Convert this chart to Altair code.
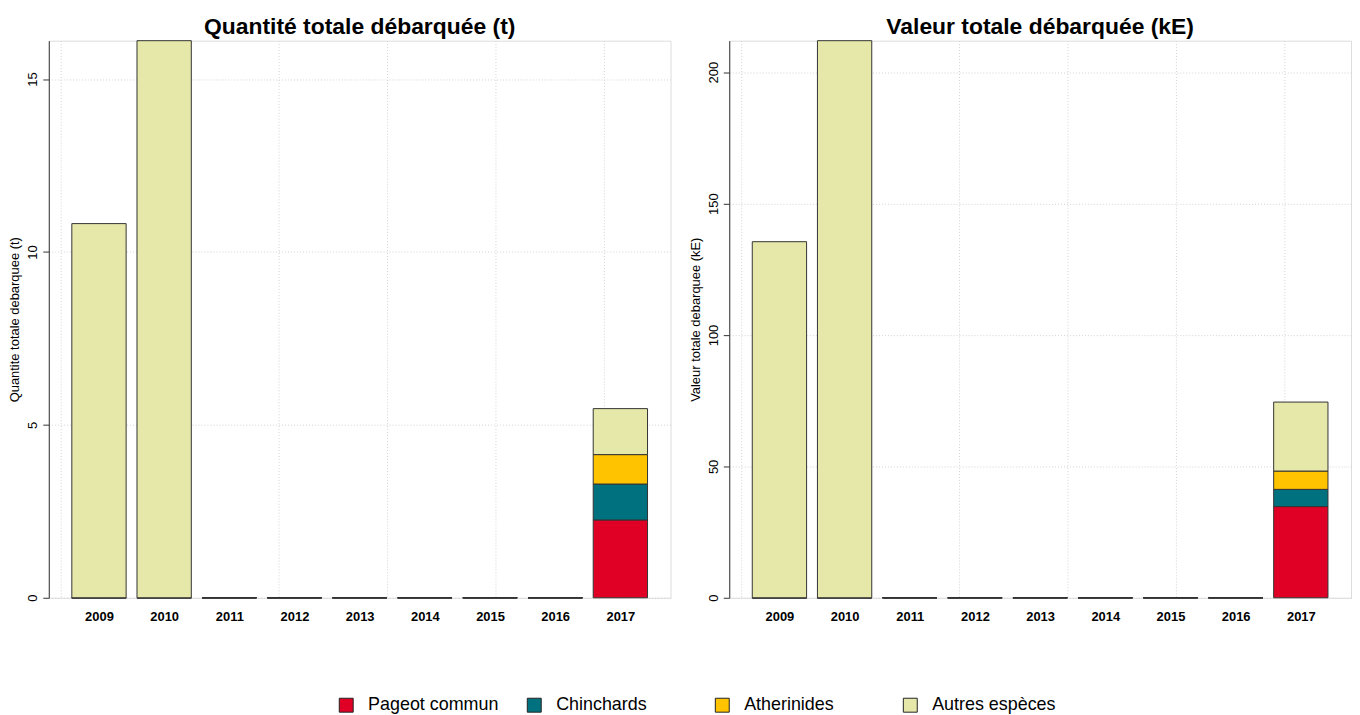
import altair as alt
import pandas as pd

# ---- data ----
annees = [2009, 2010, 2011, 2012, 2013, 2014, 2015, 2016, 2017]
especes = ["Pageot commun", "Chinchards", "Atherinides", "Autres espèces"]
couleurs = ["#E00026", "#00727F", "#FFC300", "#E6E8AA"]

# Quantité (t)
q_pageot = [0, 0, 0, 0, 0, 0, 0, 0, 2.25]
q_chinchards = [0, 0, 0, 0, 0, 0, 0, 0, 1.04]
q_atherinides = [0, 0, 0, 0, 0, 0, 0, 0, 0.85]
q_autres = [10.82, 16.11, 0, 0, 0, 0, 0, 0, 1.33]

# Valeur (kE)
v_pageot = [0, 0, 0, 0, 0, 0, 0, 0, 34.7]
v_chinchards = [0, 0, 0, 0, 0, 0, 0, 0, 6.55]
v_atherinides = [0, 0, 0, 0, 0, 0, 0, 0, 6.97]
v_autres = [135.5, 212.0, 0, 0, 0, 0, 0, 0, 26.25]

q_ticks = [0, 5, 10, 15]
v_ticks = [0, 50, 100, 150, 200]

FONT = "Liberation Sans"


def build_df(series):
    rows = []
    for i, an in enumerate(annees):
        base = 0.0
        x0 = 0.2 + 1.2 * i
        for k, (esp, vals) in enumerate(zip(especes, series)):
            v = vals[i]
            rows.append(dict(annee=an, espece=esp, ordre=k, x0=x0, x1=x0 + 1.0,
                             y0=base, y1=base + v))
            base += v
    return pd.DataFrame(rows)


legende = alt.Legend(
    title=None, orient="none", legendX=290, legendY=659, direction="horizontal",
    columns=4, gridAlign="all", columnPadding=26, symbolType="square",
    symbolSize=196, symbolStrokeColor="#222", symbolStrokeWidth=1,
    labelFontSize=18, labelOffset=13, labelFont=FONT, labelColor="#000",
)


def panel(series, titre, ytitre, yticks):
    df = build_df(series)
    lo, hi = df.x0.min(), df.x1.max()
    ext = 0.04 * (hi - lo)
    ymax = df.y1.max()
    centres = [0.7 + 1.2 * i for i in range(len(annees))]
    grille = [0, 2, 4, 6, 8, 10]
    label_expr = (f"datum.value % 2 === 0 ? '' : '' + ({annees[0]} + "
                  f"round((datum.value - {centres[0]}) / 1.2))")
    return alt.Chart(df).mark_bar(stroke="#333", strokeWidth=1).encode(
        x=alt.X("x0:Q",
                scale=alt.Scale(domain=[lo - ext, hi + ext], nice=False, zero=False),
                axis=alt.Axis(values=grille + centres, labelExpr=label_expr,
                              domain=False, ticks=False, labelFontSize=13,
                              labelFontWeight="bold", labelPadding=13,
                              labelColor="#000", labelFont=FONT,
                              grid=True, gridColor="#d3d3d3", gridDash=[1, 2],
                              gridOpacity={"condition": {"test": "datum.value % 2 === 0", "value": 1}, "value": 0}),
                title=None),
        x2="x1:Q",
        y=alt.Y("y0:Q",
                scale=alt.Scale(domain=[0, ymax], nice=False),
                axis=alt.Axis(values=yticks, labelAngle=270, labelFontSize=13,
                              labelFont=FONT, labelColor="#000", labelPadding=3,
                              tickSize=6, tickColor="#333", domainColor="#333",
                              titleFontSize=13, titleFontWeight="normal",
                              titleFont=FONT, titleColor="#000", titlePadding=5,
                              grid=True, gridColor="#d3d3d3", gridDash=[1, 2]),
                title=ytitre),
        y2="y1:Q",
        color=alt.Color("espece:N", scale=alt.Scale(domain=especes, range=couleurs),
                        legend=legende),
        order=alt.Order("ordre:Q"),
    ).properties(
        width=625, height=560,
        title=alt.Title(titre, fontSize=23, fontWeight="bold", font=FONT,
                        anchor="middle", frame="group", offset=1, color="#000"),
    )


gauche = panel([q_pageot, q_chinchards, q_atherinides, q_autres],
               "Quantité totale débarquée (t)", "Quantite totale debarquee (t)", q_ticks)
droite = panel([v_pageot, v_chinchards, v_atherinides, v_autres],
               "Valeur totale débarquée (kE)", "Valeur totale debarquee (kE)", v_ticks)

chart = alt.hconcat(gauche, droite, spacing=17).properties(
    padding={"left": 0, "top": 6, "right": 0, "bottom": 0}
).configure_view(stroke=None).configure(font=FONT)

chart.save("out.html", embed_options={"renderer": "svg", "actions": False})
